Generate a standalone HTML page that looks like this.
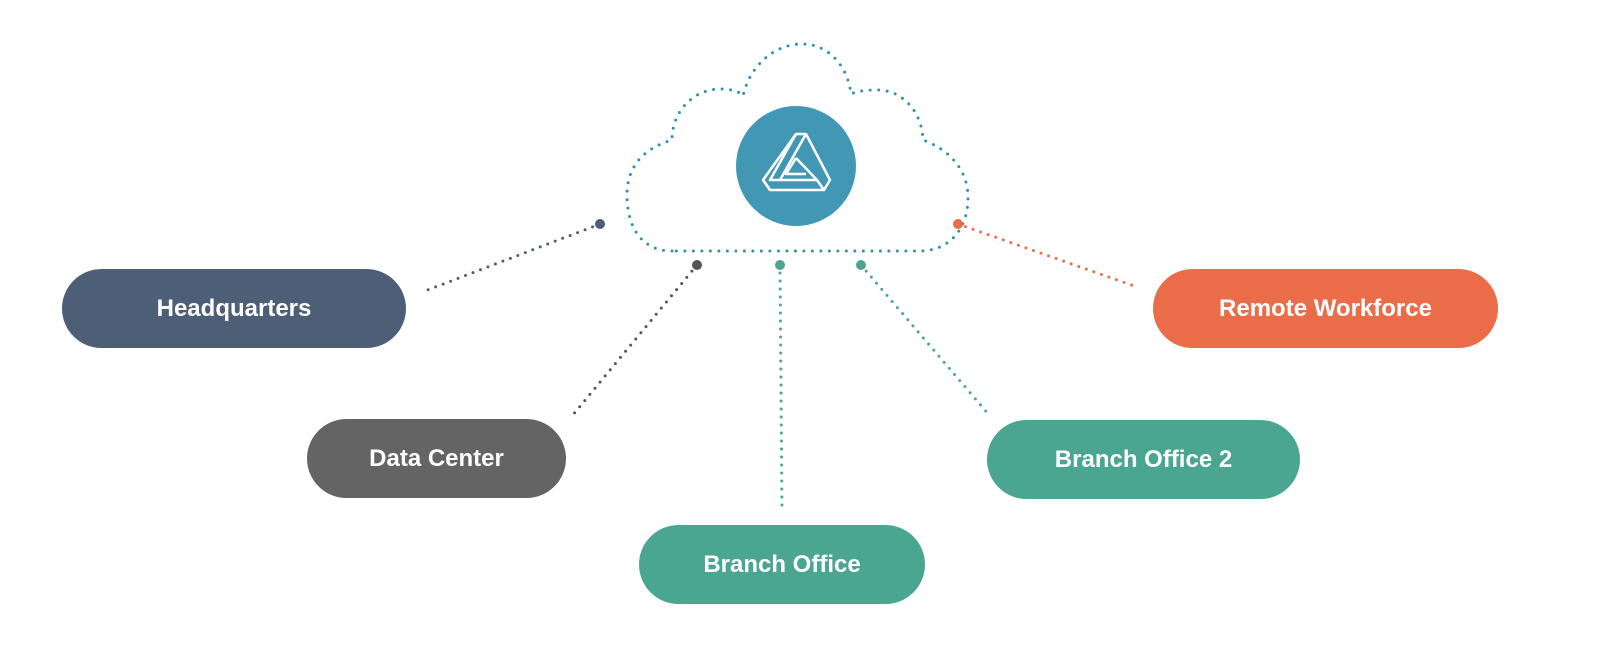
<!DOCTYPE html>
<html><head><style>
body{margin:0;background:#fff;width:1600px;height:671px;overflow:hidden;position:relative;font-family:"Liberation Sans",sans-serif}
.p{position:absolute;border-radius:40px;color:#fff;font-weight:bold;font-size:24px;display:flex;align-items:center;justify-content:center;height:79px}
svg{position:absolute;left:0;top:0}
</style></head><body>
<svg width="1600" height="671">
<g fill="none" stroke-linecap="round" stroke-width="3">
<path d="M672,251 C640,251 627,225 627,195 C627,165 645,148 672,140 C672,110 695,89 720,89 C733,89 740,92 743,96 C750,65 775,44 802,44 C830,44 848,68 851,94 C858,91 865,90 877,90 C903,90 922,112 923,140 C950,150 968,170 968,198 C968,230 948,251 920,251 Z" stroke="#2f8fb0" stroke-dasharray="0 8.5"/>
<line x1="600" y1="224" x2="425" y2="291" stroke="#4d5e77" stroke-dasharray="0 8"/>
<line x1="697" y1="265" x2="572" y2="416" stroke="#555" stroke-dasharray="0 8"/>
<line x1="780" y1="265" x2="782" y2="510" stroke="#4aa690" stroke-dasharray="0 8"/>
<line x1="861" y1="265" x2="990" y2="416" stroke="#4aa690" stroke-dasharray="0 8"/>
<line x1="958" y1="224" x2="1137" y2="287" stroke="#ea6c48" stroke-dasharray="0 8"/>
</g>
<circle cx="600" cy="224" r="5" fill="#4d5e77"/>
<circle cx="697" cy="265" r="5" fill="#555"/>
<circle cx="780" cy="265" r="5" fill="#4aa690"/>
<circle cx="861" cy="265" r="5" fill="#4aa690"/>
<circle cx="958" cy="224" r="5" fill="#ea6c48"/>
<circle cx="796" cy="166" r="60" fill="#4297b5"/>
<g fill="none" stroke="#fff" stroke-width="2.5" stroke-linejoin="round">
<path d="M796,134 L806,134 L830,180 L824,190 L770,190 L763,180 Z"/>
<path d="M796,134 L770,180 L817,180"/>
<path d="M806,134 L780,180"/>
<path d="M796,158 L817,180 M796,158 L786,174 L806,174"/>
<path d="M770,190 L763,180 M824,190 L817,180"/>
</g>
</svg>
<div class="p" style="left:62px;top:269px;width:344px;background:#4d5e77">Headquarters</div>
<div class="p" style="left:307px;top:419px;width:259px;background:#646464">Data Center</div>
<div class="p" style="left:639px;top:525px;width:286px;background:#4aa690">Branch Office</div>
<div class="p" style="left:987px;top:420px;width:313px;background:#4aa690">Branch Office 2</div>
<div class="p" style="left:1153px;top:269px;width:345px;background:#ea6c48">Remote Workforce</div>
</body></html>
